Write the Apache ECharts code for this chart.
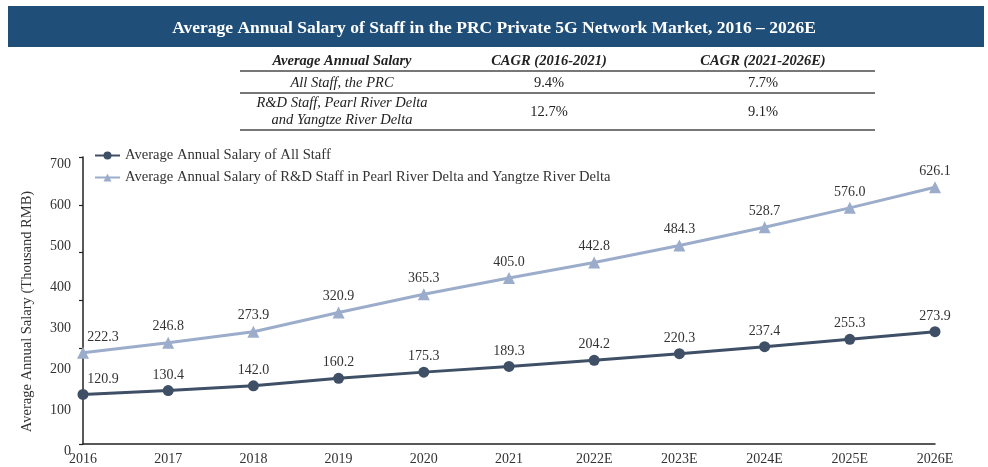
<!DOCTYPE html>
<html>
<head>
<meta charset="utf-8">
<script src="https://cdn.jsdelivr.net/npm/echarts@6/dist/echarts.min.js"></script>
<style>
  html, body { margin: 0; padding: 0; background: #fff; }
  #main { width: 988px; height: 467px; }
</style>
</head>
<body>
<div id="main"></div>
<script>
// data
var years = ['2016', '2017', '2018', '2019', '2020', '2021', '2022E', '2023E', '2024E', '2025E', '2026E'];
var allStaff = [120.9, 130.4, 142.0, 160.2, 175.3, 189.3, 204.2, 220.3, 237.4, 255.3, 273.9];
var rdStaff = [222.3, 246.8, 273.9, 320.9, 365.3, 405.0, 442.8, 484.3, 528.7, 576.0, 626.1];
var seriesNames = ['Average Annual Salary of All Staff', 'Average Annual Salary of R&D Staff in Pearl River Delta and Yangtze River Delta'];
var tableHead = ['Average Annual Salary', 'CAGR (2016-2021)', 'CAGR (2021-2026E)'];
var tableRows = [
  ['All Staff, the PRC', '9.4%', '7.7%'],
  ['R&D Staff, Pearl River Delta\nand Yangtze River Delta', '12.7%', '9.1%']
];

var FONT = '"Liberation Serif", "Times New Roman", serif';
var DARK = '#3e4f66';
var LIGHT = '#9badcb';

var chart = echarts.init(document.getElementById('main'));

// 表格
var colX = [342, 549, 763];
var rowY = [83, 112];
var tableGraphic = [];
tableHead.forEach(function (t, i) {
  tableGraphic.push({
    type: 'text', x: colX[i], y: 61,
    style: { text: t, font: 'italic bold 14.5px ' + FONT, fill: '#222', align: 'center', verticalAlign: 'middle' }
  });
});
tableRows.forEach(function (row, r) {
  row.forEach(function (t, i) {
    tableGraphic.push({
      type: 'text', x: colX[i], y: rowY[r],
      style: {
        text: t, font: (i === 0 ? 'italic ' : '') + '14.5px ' + FONT, fill: '#222',
        align: 'center', verticalAlign: 'middle', lineHeight: 17
      }
    });
  });
});
[71, 93, 130].forEach(function (y) {
  tableGraphic.push({
    type: 'line', shape: { x1: 240, y1: y, x2: 875, y2: y },
    style: { stroke: '#777', lineWidth: 2 }
  });
});

var labelCfg = {
  show: true, position: 'top', distance: 3, fontFamily: FONT, fontSize: 14, color: '#333',
  formatter: function (p) { return p.value.toFixed(1); }
};

var option = {
  backgroundColor: '#fff',
  animation: false,
  title: {
    text: 'Average Annual Salary of Staff in the PRC Private 5G Network Market, 2016 – 2026E',
    left: 'center', top: 14,
    textStyle: { color: '#fff', fontFamily: FONT, fontWeight: 'bold', fontSize: 17.5 }
  },
  graphic: [
    { type: 'rect', z: -10, shape: { x: 8, y: 6, width: 976, height: 41 }, style: { fill: '#1f4e79' } }
  ].concat(tableGraphic),
  legend: {
    orient: 'vertical', left: 89, top: 143,
    itemWidth: 25, itemHeight: 10, itemGap: 7,
    textStyle: { fontFamily: FONT, fontSize: 14.6, color: '#333' },
    data: seriesNames
  },
  grid: { left: 83, right: 53, top: 157, bottom: 23 },
  xAxis: {
    type: 'category', boundaryGap: false, data: years,
    axisLine: { lineStyle: { color: '#222', width: 1.5 } },
    axisTick: { show: false },
    axisLabel: { fontFamily: FONT, fontSize: 14, color: '#333', margin: 8 }
  },
  yAxis: [
    {
      type: 'value', min: 0, max: 700, interval: 100,
      name: 'Average Annual Salary (Thousand RMB)', nameLocation: 'middle', nameGap: 48,
      nameTextStyle: { fontFamily: FONT, fontSize: 14.5, color: '#333', padding: [0, 22, 0, 0] },
      axisLine: { show: true, lineStyle: { color: '#222', width: 1.5 } },
      axisTick: { show: false },
      splitLine: { show: false },
      axisLabel: { fontFamily: FONT, fontSize: 14, color: '#333', margin: 12, verticalAlign: 'top' }
    },
    {
      // 原图的刻度线与标签并不对齐（6 等分）
      type: 'value', position: 'left', min: 0, max: 6, interval: 1,
      axisLine: { show: false },
      axisTick: { show: true, length: 4, lineStyle: { color: '#222', width: 1.2 } },
      axisLabel: { show: false },
      splitLine: { show: false }
    }
  ],
  series: [
    {
      name: seriesNames[0], type: 'line', data: allStaff.map(function (v, i) {
        return i === 0 ? { value: v, label: { offset: [20, 0] } } : v;
      }),
      symbol: 'circle', symbolSize: 11, itemStyle: { color: DARK },
      lineStyle: { color: DARK, width: 3 },
      label: labelCfg
    },
    {
      name: seriesNames[1], type: 'line', data: rdStaff.map(function (v, i) {
        return i === 0 ? { value: v, label: { offset: [20, 0] } } : v;
      }),
      symbol: 'triangle', symbolSize: 12, itemStyle: { color: LIGHT },
      lineStyle: { color: LIGHT, width: 3 },
      label: labelCfg
    }
  ]
};
chart.setOption(option);
</script>
</body>
</html>
